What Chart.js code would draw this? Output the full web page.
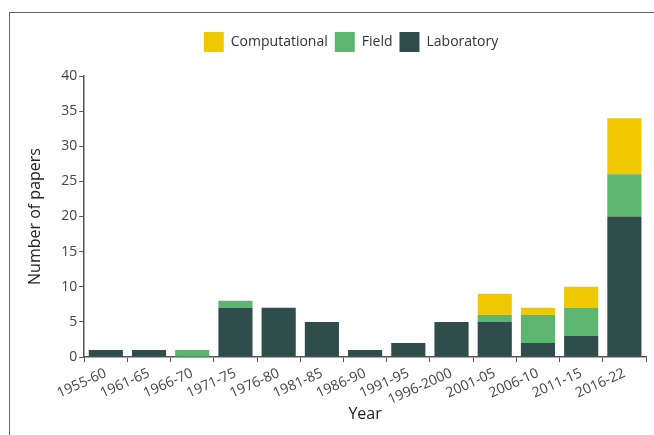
<!DOCTYPE html>
<html>
<head>
<meta charset="utf-8">
<script src="https://cdn.jsdelivr.net/npm/chart.js@4/dist/chart.umd.min.js"></script>
<style>
    html, body { margin: 0; padding: 0; background: #fff; }
    #wrap { position: relative; width: 654px; height: 435px; overflow: hidden; }
    #frame {
        position: absolute; left: 9px; top: 12px; width: 700px; height: 500px;
        border-top: 1px solid #666; border-left: 1px solid #666;
    }
    #chart { position: absolute; left: 0; top: 0; }
</style>
</head>
<body>
<div id="wrap">
    <div id="frame"></div>
    <canvas id="chart" width="654" height="435"></canvas>
</div>
<script>
// 期間ラベル
const periods = ['1955-60', '1961-65', '1966-70', '1971-75', '1976-80', '1981-85', '1986-90',
    '1991-95', '1996-2000', '2001-05', '2006-10', '2011-15', '2016-22'];

// 論文数（種類別）
const laboratory    = [1, 1, 0, 7, 7, 5, 1, 2, 5, 5, 2, 3, 20];
const field         = [0, 0, 1, 1, 0, 0, 0, 0, 0, 1, 4, 4, 6];
const computational = [0, 0, 0, 0, 0, 0, 0, 0, 0, 3, 1, 3, 8];

// y軸目盛り
const yTicks = [0, 5, 10, 15, 20, 25, 30, 35, 40];

const axisColor = '#555';
const fontFamily = '"Open Sans", "Noto Sans", sans-serif';

Chart.defaults.font.family = fontFamily;

// 凡例の位置と高さを調整
const legendTweak = {
    id: 'legendTweak',
    beforeInit(chart) {
        const origFit = chart.legend.fit;
        chart.legend.fit = function () {
            origFit.call(this);
            this.height += 19;
        };
    },
    afterLayout(chart) {
        chart.legend.left += 17;
        chart.legend.right += 17;
        chart.legend.top += 5;
        chart.legend.bottom += 5;
    },
};

const ctx = document.getElementById('chart').getContext('2d');
new Chart(ctx, {
    type: 'bar',
    data: {
        labels: periods,
        datasets: [
            { label: 'Laboratory', data: laboratory, backgroundColor: '#2f4d4b' },
            { label: 'Field', data: field, backgroundColor: '#5cb66f' },
            { label: 'Computational', data: computational, backgroundColor: '#f0c800' },
        ],
    },
    plugins: [legendTweak],
    options: {
        responsive: false,
        animation: false,
        layout: { padding: { top: 20, right: 8, left: 22, bottom: 0 } },
        datasets: { bar: { categoryPercentage: 0.79, barPercentage: 1 } },
        plugins: {
            legend: {
                reverse: true,
                labels: {
                    boxWidth: 20,
                    boxHeight: 20,
                    color: '#333',
                    font: { size: 14 },
                    padding: 7,
                },
            },
            tooltip: { enabled: false },
        },
        scales: {
            x: {
                stacked: true,
                afterFit: axis => { axis.height = 78; },
                border: { color: axisColor, width: 1.5 },
                grid: { drawOnChartArea: false, drawTicks: true, tickLength: 5, color: axisColor },
                ticks: { color: '#444', font: { size: 14 }, autoSkip: false, minRotation: 24, maxRotation: 24, padding: 3 },
                title: { display: true, text: 'Year', color: '#222', font: { size: 16 }, padding: { top: 0, bottom: 11 } },
            },
            y: {
                stacked: true,
                min: 0,
                max: 40,
                afterBuildTicks: axis => { axis.ticks = yTicks.map(v => ({ value: v })); },
                border: { color: axisColor, width: 1.5 },
                grid: { drawOnChartArea: false, drawTicks: true, tickLength: 5, color: axisColor },
                ticks: { color: '#444', font: { size: 14 }, padding: 2 },
                title: { display: true, text: 'Number of papers', color: '#222', font: { size: 16 }, padding: { bottom: 14 } },
            },
        },
    },
});
</script>
</body>
</html>
